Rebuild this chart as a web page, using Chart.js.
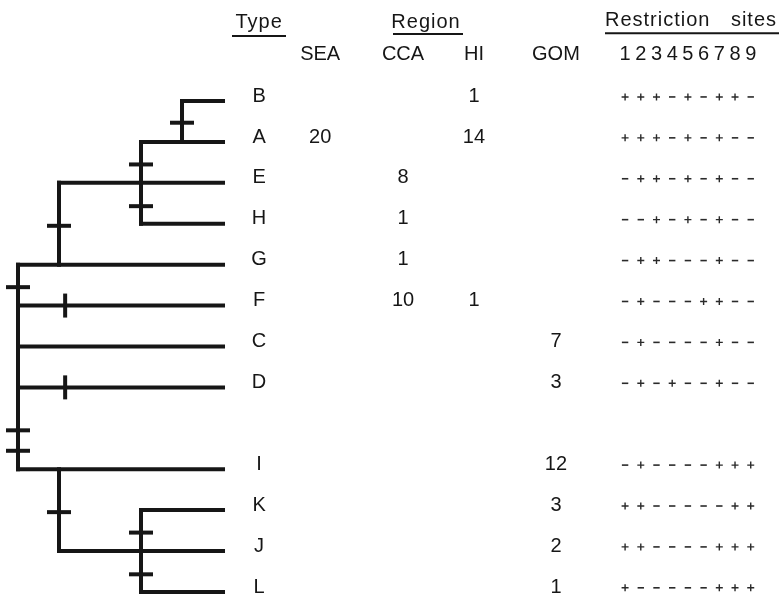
<!DOCTYPE html>
<html>
<head>
<meta charset="utf-8">
<script src="https://cdn.jsdelivr.net/npm/chart.js@4"></script>
<style>
    html, body { margin: 0; padding: 0; background: #fff; }
    #wrap { width: 779px; height: 596px; position: relative; }
</style>
</head>
<body>
<div id="wrap"><canvas id="treeChart"></canvas></div>
<script>
// ===== Data =====
const types      = ['B', 'A', 'E', 'H', 'G', 'F', 'C', 'D', 'I', 'K', 'J', 'L'];
const rows       = [0, 1, 2, 3, 4, 5, 6, 7, 9, 10, 11, 12];
const branchFrom = [4, 3, 1, 3, 0, 0, 0, 0, 0, 3, 1, 3];
const tipDepth   = 5;

// internal nodes (depth, first row, last row)
const nodeDepth  = [4, 3, 1, 0, 1, 3];
const nodeTop    = [0, 1, 2, 4, 9, 10];
const nodeBottom = [1, 3, 4, 9, 11, 12];

// site changes marked on the tree
const markDepth  = [4, 3, 3, 1, 0, 0, 0, 1, 3, 3];
const markRow    = [0.53, 1.55, 2.57, 3.05, 4.55, 8.05, 8.55, 10.05, 10.55, 11.57];
const crossDepth = [1.15, 1.15];
const crossRow   = [5, 7];

// counts per region
const sea = ['', '20', '', '', '', '', '', '', '', '', '', ''];
const cca = ['', '', '8', '1', '1', '10', '', '', '', '', '', ''];
const hi  = ['1', '14', '', '', '', '1', '', '', '', '', '', ''];
const gom = ['', '', '', '', '', '', '7', '3', '12', '3', '2', '1'];
const regionNames = ['SEA', 'CCA', 'HI', 'GOM'];

// restriction sites 1..9
const siteNumbers = [1, 2, 3, 4, 5, 6, 7, 8, 9];
const sites = [
    '+++-+-++-', '+++-+-+--', '-++-+-+--', '--+-+-+--',
    '-++---+--', '-+---++--', '-+----+--', '-+-+--+--',
    '-+----+++', '++-----++', '++----+++', '+-----+++'
];

// ===== Layout =====
const INK = '#161616';
const FONT = '20px "Liberation Sans", Arial, sans-serif';
const typeCol = 5.88;
const regionCols = [7.37, 9.39, 11.12, 13.12];

// ===== Datasets =====
const datasets = [];

// tip branches
types.forEach((t, i) => {
    datasets.push({
        data: [{ x: branchFrom[i], y: rows[i] }, { x: tipDepth, y: rows[i] }],
        showLine: true,
        borderColor: INK,
        borderWidth: 4,
        borderCapStyle: 'square',
        pointRadius: 0
    });
});

// node verticals
nodeDepth.forEach((d, j) => {
    datasets.push({
        data: [{ x: d, y: nodeTop[j] }, { x: d, y: nodeBottom[j] }],
        showLine: true,
        borderColor: INK,
        borderWidth: 4,
        borderCapStyle: 'square',
        pointRadius: 0
    });
});

// marks across verticals
datasets.push({
    data: markDepth.map((d, k) => ({ x: d, y: markRow[k] })),
    pointStyle: 'line',
    pointRadius: 12,
    borderWidth: 4,
    borderColor: INK,
    backgroundColor: INK
});

// marks across horizontals
datasets.push({
    data: crossDepth.map((d, k) => ({ x: d, y: crossRow[k] })),
    pointStyle: 'line',
    rotation: 90,
    pointRadius: 12,
    borderWidth: 4,
    borderColor: INK,
    backgroundColor: INK
});

// plus / minus symbols
const plusPts = [];
const minusPts = [];
sites.forEach((s, i) => {
    s.split('').forEach((c, k) => {
        const p = { x: siteNumbers[k], y: rows[i] - 0.1 };
        if (c === '+') plusPts.push(p); else minusPts.push(p);
    });
});

datasets.push({
    data: plusPts,
    xAxisID: 'xs',
    pointStyle: 'cross',
    pointRadius: 3.5,
    borderWidth: 1.4,
    borderColor: '#2a2a2a',
    backgroundColor: '#2a2a2a'
});
datasets.push({
    data: minusPts,
    xAxisID: 'xs',
    pointStyle: 'line',
    pointRadius: 3.2,
    borderWidth: 1.6,
    borderColor: '#2a2a2a',
    backgroundColor: '#2a2a2a'
});

// ===== Text table =====
const tablePlugin = {
    id: 'tableText',
    afterDatasetsDraw(chart) {
        const { ctx } = chart;
        const x = chart.scales.x;
        const y = chart.scales.y;
        const xs = chart.scales.xs;
        ctx.save();
        ctx.fillStyle = INK;
        ctx.strokeStyle = INK;
        ctx.font = FONT;
        ctx.textBaseline = 'middle';

        // group headers
        ctx.letterSpacing = '1px';
        ctx.textAlign = 'center';
        ctx.fillText('Type', x.getPixelForValue(typeCol), y.getPixelForValue(-1.93));
        ctx.fillText('Region', 426, y.getPixelForValue(-1.93));
        ctx.textAlign = 'left';
        ctx.fillText('Restriction', 605, y.getPixelForValue(-1.98));
        ctx.textAlign = 'right';
        ctx.fillText('sites', 777, y.getPixelForValue(-1.98));
        ctx.letterSpacing = '0px';

        // underlines
        ctx.lineWidth = 2;
        const under = [[232, 286, -1.59], [393, 463, -1.64], [605, 779, -1.66]];
        under.forEach(([a, b, v]) => {
            const py = y.getPixelForValue(v);
            ctx.beginPath();
            ctx.moveTo(a, py);
            ctx.lineTo(b, py);
            ctx.stroke();
        });

        // column headers
        ctx.textAlign = 'center';
        regionNames.forEach((n, c) => {
            ctx.fillText(n, x.getPixelForValue(regionCols[c]), y.getPixelForValue(-1.13));
        });
        siteNumbers.forEach(n => {
            ctx.fillText(String(n), xs.getPixelForValue(n), y.getPixelForValue(-1.15));
        });

        // rows
        const cols = [sea, cca, hi, gom];
        types.forEach((t, i) => {
            const py = y.getPixelForValue(rows[i] - 0.12);
            ctx.fillText(t, x.getPixelForValue(typeCol), py);
            cols.forEach((col, c) => {
                if (col[i]) ctx.fillText(col[i], x.getPixelForValue(regionCols[c]), py);
            });
        });
        ctx.restore();
    }
};

const ctx = document.getElementById('treeChart').getContext('2d');
new Chart(ctx, {
    type: 'scatter',
    data: { datasets: datasets },
    options: {
        responsive: true,
        maintainAspectRatio: false,
        animation: false,
        layout: { padding: 0, autoPadding: false },
        plugins: {
            legend: { display: false },
            tooltip: { enabled: false }
        },
        scales: {
            x: { type: 'linear', display: false, min: -0.439, max: 18.56 },
            xs: { type: 'linear', display: false, min: -38.8, max: 10.8 },
            y: { type: 'linear', display: false, reverse: true, min: -2.47, max: 12.1 }
        }
    },
    plugins: [tablePlugin]
});
</script>
</body>
</html>
